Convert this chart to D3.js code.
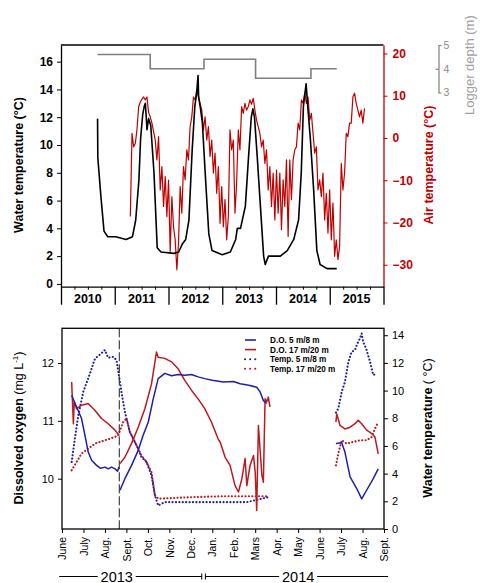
<!DOCTYPE html>
<html><head><meta charset="utf-8">
<script src="https://cdn.jsdelivr.net/npm/d3@7"></script>
<style>
body{margin:0;background:#fff;}
svg{display:block;font-family:"Liberation Sans",Arial,Helvetica,sans-serif;}
</style></head><body>
<svg id="c" width="480" height="583"></svg>
<script>
// ---------- TOP PANEL DATA ----------
const yearTicks = [2010, 2011, 2012, 2013, 2014, 2015, 2016];
const yearLabels = ["2010", "2011", "2012", "2013", "2014", "2015"];
const waterTicks = [0, 2, 4, 6, 8, 10, 12, 14, 16];
const airTicks = [-30, -20, -10, 0, 10, 20];
const depthTicks = [3, 4, 5];

// water temperature (°C) : [decimal year, value]
const waterTemp = [
  [2010.68, 11.9], [2010.685, 9.1], [2010.74, 6.4], [2010.80, 3.8], [2010.87, 3.4], [2011.02, 3.4],
  [2011.21, 3.2], [2011.33, 3.4], [2011.35, 3.8], [2011.39, 4.6], [2011.45, 7.5], [2011.48, 10.4],
  [2011.52, 12.2], [2011.55, 12.8], [2011.57, 13.0], [2011.60, 11.1], [2011.63, 11.9], [2011.67, 11.4],
  [2011.73, 8.0], [2011.76, 5.3], [2011.79, 2.6], [2011.86, 2.3], [2012.10, 2.2], [2012.19, 2.3],
  [2012.26, 2.9], [2012.32, 3.2], [2012.38, 4.6], [2012.44, 9.6], [2012.49, 12.8], [2012.52, 13.6],
  [2012.55, 15.0], [2012.56, 13.5], [2012.60, 12.5], [2012.63, 11.6], [2012.69, 7.5], [2012.75, 3.6],
  [2012.81, 2.4], [2013.00, 2.1], [2013.15, 2.3], [2013.25, 3.2], [2013.28, 4.0], [2013.34, 4.0],
  [2013.43, 5.6], [2013.49, 9.2], [2013.54, 12.0], [2013.57, 12.6], [2013.60, 12.0], [2013.65, 9.2],
  [2013.71, 5.6], [2013.77, 2.0], [2013.80, 1.4], [2013.86, 2.0], [2014.08, 2.0], [2014.21, 2.4],
  [2014.33, 3.2], [2014.42, 4.6], [2014.47, 8.0], [2014.51, 12.8], [2014.56, 14.4], [2014.59, 12.8],
  [2014.64, 10.4], [2014.70, 6.8], [2014.76, 2.4], [2014.82, 1.4], [2014.95, 1.1], [2015.13, 1.1]
];

// air temperature (°C), regular samples starting at airStart, every airStep years
const airStart = 2011.29;
const airStep = 0.0309;
const airTemp = [
  -18.6, 1.1, -2.1, -1.3, 2.0, 7.4, 8.5, 9.2, 9.7, 9.0,
  9.7, 6.0, 5.0, 3.5, 1.5, -0.5, -5.2, 0.3, -12.3, -6.8,
  -16.2, -9.1, -18.6, -10.0, -26.9, -13.9, -21.0, -24.1, -31.2, -24.9,
  -11.5, -17.8, -6.8, -9.9, -2.8, -5.2, 2.7, 5.0, 9.7, 9.0,
  11.3, 9.7, 8.2, 6.6, 1.9, 5.0, -0.5, 2.7, -4.4, -0.5,
  -8.3, -3.6, -13.1, -6.8, -20.2, -11.5, -21.0, -14.6, -24.1, -18.6,
  1.9, -2.8, -0.5, -17.8, -10.7, 1.9, -2.8, 7.4, 5.8, 8.2,
  6.6, 7.4, 9.0, 8.0, 9.4, 6.6, 4.2, 2.7, 1.1, -2.1,
  -0.5, -6.0, -2.8, -12.3, -6.8, -16.2, -8.3, -19.4, -7.6, -17.8,
  -8.3, -21.7, -9.9, -16.2, -5.2, -23.3, -5.2, -14.6, -5.2, -2.8,
  -2.1, 3.5, 1.9, 9.0, 8.2, 10.6, 8.2, 9.7, 4.2, 5.8,
  1.1, -3.6, -2.1, -12.3, -9.9, -13.9, -8.3, -19.4, -13.1, -22.5,
  -12.3, -24.1, -15.4, -28.0, -24.1, -28.8, -25.7, -6.0, -12.3, -8.3,
  1.1, 0.3, 3.5, 3.5, 9.7, 10.6, 8.2, 6.6, 5.0, 6.6, 3.5, 7.0
];

// logger depth (m) : [start year, depth]
const loggerDepth = [
  [2010.68, 4.6], [2011.66, 4.0], [2012.66, 4.4], [2013.62, 3.6], [2014.65, 4.0], [2015.13, 4.0]
];

// ---------- BOTTOM PANEL DATA ----------
// x = months since 1 June 2013
const monthLabels = ["June", "July", "Aug.", "Sept.", "Oct.", "Nov.", "Dec.", "Jan.", "Feb.", "Mars",
                     "Apr.", "May", "June", "July", "Aug.", "Sept."];
const doTicks = [10, 11, 12];
const tempTicks = [0, 2, 4, 6, 8, 10, 12, 14];
const sensorChange = 2.67; // dashed vertical line
const seriesNames = ["D.O. 5 m/8 m", "D.O. 17 m/20 m", "Temp. 5 m/8 m", "Temp. 17 m/20 m"];
const yearBands = [
  {label: "2013", from: -0.13, to: 6.51, center: 2.55},
  {label: "2014", from: 6.68, to: 15.19, center: 11.0}
];

const doShallow = [
  [0.45, 11.44], [0.68, 11.24], [0.91, 11.04], [1.07, 10.75], [1.22, 10.46], [1.38, 10.32], [1.61, 10.23],
  [1.80, 10.18], [2.00, 10.20], [2.15, 10.17], [2.31, 10.20], [2.47, 10.17], [2.59, 10.13], [2.65, 10.20],
  null,
  [2.70, 9.80], [2.93, 10.0], [3.24, 10.23], [3.55, 10.49], [3.78, 10.75], [4.02, 10.98], [4.25, 11.38],
  [4.48, 11.73], [4.79, 11.82], [5.10, 11.78], [5.41, 11.80], [5.72, 11.79], [6.03, 11.80], [6.34, 11.76],
  [6.65, 11.73], [7.00, 11.70], [7.51, 11.67], [7.99, 11.68], [8.30, 11.64], [8.76, 11.61], [9.07, 11.58],
  [9.23, 11.50], [9.38, 11.35], [9.54, 11.30],
  null,
  [12.76, 10.61], [13.03, 10.62], [13.18, 10.46], [13.42, 10.03], [13.73, 9.83], [13.96, 9.65],
  [14.19, 9.80], [14.50, 10.0], [14.73, 10.17]
];
const doDeep = [
  [0.45, 11.67], [0.53, 10.95], [0.57, 11.33], [0.68, 11.21], [0.91, 11.27], [1.22, 11.30], [1.54, 11.18],
  [1.84, 11.04], [2.15, 10.95], [2.47, 10.84], [2.65, 10.75],
  null,
  [2.70, 10.26], [2.93, 10.37], [3.24, 10.61], [3.55, 10.89], [3.86, 11.21], [4.17, 11.64], [4.40, 12.19],
  [4.48, 12.10], [4.79, 12.08], [5.10, 12.02], [5.41, 11.90], [5.72, 11.70], [6.03, 11.53], [6.34, 11.38],
  [6.65, 11.21], [6.96, 10.98], [7.27, 10.69], [7.37, 10.63], [7.60, 10.37], [7.83, 10.23], [8.06, 9.88],
  [8.22, 9.77], [8.38, 10.0], [8.53, 10.35], [8.61, 9.88], [8.76, 10.23], [8.92, 10.40], [9.00, 10.11],
  [9.07, 9.45], [9.15, 10.92], [9.31, 10.06], [9.38, 9.94], [9.46, 11.38], [9.54, 11.33], [9.61, 11.41],
  [9.69, 11.24],
  null,
  [12.76, 10.98], [12.80, 11.12], [12.95, 10.92], [13.18, 10.86], [13.42, 10.89], [13.65, 10.95],
  [13.80, 11.01], [13.96, 10.95], [14.19, 10.84], [14.43, 10.78], [14.58, 10.72], [14.73, 10.43]
];
const tempShallow = [
  [0.45, 4.84], [0.60, 6.53], [0.76, 8.22], [0.99, 9.91], [1.22, 10.88], [1.38, 11.60], [1.54, 12.32],
  [1.77, 12.61], [2.00, 12.93], [2.15, 12.37], [2.39, 12.44], [2.54, 12.20], [2.65, 11.12], [2.77, 9.91],
  [2.93, 8.46], [3.16, 7.01], [3.47, 6.05], [3.70, 5.20], [3.94, 4.84], [4.17, 3.87], [4.33, 2.43],
  [4.48, 1.70], [4.79, 1.94], [6.03, 1.94], [7.51, 1.94], [8.61, 1.94], [9.61, 2.30],
  null,
  [12.76, 8.41], [12.87, 8.70], [13.03, 9.91], [13.18, 10.63], [13.34, 12.08], [13.49, 12.80],
  [13.65, 12.93], [13.73, 13.29], [13.88, 13.77], [13.96, 14.13], [14.03, 13.53], [14.19, 12.93],
  [14.35, 12.08], [14.50, 11.12], [14.66, 11.24]
];
const tempDeep = [
  [0.45, 4.24], [0.68, 4.84], [0.91, 5.45], [1.22, 5.81], [1.54, 6.17], [2.00, 6.41], [2.47, 6.65],
  [2.62, 6.77], [2.85, 7.73], [3.01, 7.98], [3.16, 7.01], [3.47, 6.05], [3.70, 5.32], [3.94, 4.84],
  [4.17, 4.11], [4.33, 2.43], [4.48, 2.19], [6.03, 2.30], [7.51, 2.37], [9.61, 2.37],
  null,
  [12.76, 4.60], [12.87, 5.45], [13.03, 6.41], [13.26, 6.17], [13.57, 6.29], [13.88, 6.41], [14.19, 6.41],
  [14.43, 6.65], [14.58, 7.25], [14.73, 7.73]
];

// ---------- DRAW ----------
const svg = d3.select("#c");
svg.append("rect").attr("width", 480).attr("height", 583).attr("fill", "#fff");

const RED = "#c00000", BLUE = "#1f1fa8", BRED = "#bb1a1f", GRAY = "#7f7f7f";
const fmtInt = d3.format("d");

// ===== Top panel =====
const tL = 61, tR = 383.5, tT = 45, tB = 286.7;
const xTop = d3.scaleLinear().domain([2010, 2016]).range([tL, tR]);
const yW = d3.scaleLinear().domain([-0.2, 17.2]).range([tB, tT]);
const yA = d3.scaleLinear().domain([-35.2, 22]).range([tB, tT]);
const yD = d3.scaleLinear().domain([3, 5]).range([92.5, 45]);

svg.append("line").attr("x1", tL).attr("x2", tR).attr("y1", tT).attr("y2", tT)
  .attr("stroke", "#000").attr("stroke-width", 1.3);

// logger depth step line
svg.append("path").datum(loggerDepth)
  .attr("d", d3.line().x(d => xTop(d[0])).y(d => yD(d[1])).curve(d3.curveStepAfter))
  .attr("fill", "none").attr("stroke", GRAY).attr("stroke-width", 1.6);

// air temperature
const airPts = airTemp.map((v, i) => [airStart + i * airStep, v]);
svg.append("path").datum(airPts)
  .attr("d", d3.line().x(d => xTop(d[0])).y(d => yA(d[1])))
  .attr("fill", "none").attr("stroke", RED).attr("stroke-width", 1.2).attr("stroke-linejoin", "round");

// water temperature
svg.append("path").datum(waterTemp)
  .attr("d", d3.line().x(d => xTop(d[0])).y(d => yW(d[1])))
  .attr("fill", "none").attr("stroke", "#000").attr("stroke-width", 1.6).attr("stroke-linejoin", "round");

// left axis
const gl = svg.append("g").attr("transform", `translate(${tL},0)`)
  .call(d3.axisLeft(yW).tickValues(waterTicks).tickSize(4).tickSizeOuter(0).tickPadding(4).tickFormat(fmtInt));
gl.select(".domain").attr("stroke-width", 1.3);
gl.selectAll("text").attr("font-size", 12).attr("font-weight", "bold").attr("font-family", null);

// right axis (air)
const gr = svg.append("g").attr("transform", `translate(${tR},0)`)
  .call(d3.axisRight(yA).tickValues(airTicks).tickSize(4).tickSizeOuter(0).tickPadding(5).tickFormat(fmtInt));
gr.select(".domain").attr("stroke", RED).attr("stroke-width", 1.3);
gr.selectAll(".tick line").attr("stroke", RED);
gr.selectAll("text").attr("fill", RED).attr("font-size", 12).attr("font-weight", "bold").attr("font-family", null);

// bottom axis (years)
const gb = svg.append("g").attr("transform", `translate(0,${tB})`)
  .call(d3.axisBottom(xTop).tickValues(yearTicks).tickSize(18).tickSizeOuter(0).tickFormat(""));
gb.select(".domain").attr("stroke-width", 1.3);
gb.selectAll(".tick line").attr("stroke-width", 1.3);
const quarterTicks = [];
yearTicks.slice(0, -1).forEach(y => [0.25, 0.5, 0.75].forEach(q => quarterTicks.push(y + q)));
svg.append("g").attr("transform", `translate(0,${tB})`)
  .call(d3.axisBottom(xTop).tickValues(quarterTicks).tickSize(3).tickSizeOuter(0).tickFormat(""))
  .select(".domain").remove();
svg.append("g").selectAll("text").data(yearLabels).join("text")
  .attr("x", d => xTop(+d + 0.5)).attr("y", 302.5)
  .attr("text-anchor", "middle").attr("font-size", 12.5).attr("font-weight", "bold").text(d => d);

// logger depth axis
const gd = svg.append("g").attr("transform", "translate(438.5,0)")
  .call(d3.axisRight(yD).tickValues(depthTicks).tickSizeInner(-3).tickSizeOuter(3).tickPadding(5).tickFormat(fmtInt));
gd.select(".domain").attr("stroke", GRAY).attr("stroke-width", 1.2);
gd.selectAll(".tick line").attr("stroke", GRAY).attr("stroke-width", 1.2)
  .filter(d => d !== 4).remove();
gd.selectAll("text").attr("fill", "#8a8a8a").attr("font-size", 10.5).attr("font-family", null);

// titles
svg.append("text").attr("transform", "translate(23,165) rotate(-90)").attr("text-anchor", "middle")
  .attr("font-size", 12.5).attr("font-weight", "bold").text("Water temperature (°C)");
svg.append("text").attr("transform", "translate(432.5,165) rotate(-90)").attr("text-anchor", "middle")
  .attr("font-size", 12.5).attr("font-weight", "bold").attr("fill", RED).text("Air temperature (°C)");
svg.append("text").attr("transform", "translate(474,115) rotate(-90)").attr("text-anchor", "start")
  .attr("font-size", 13).attr("fill", "#a0a0a0").text("Logger depth (m)");

// ===== Bottom panel =====
const bL = 62, bR = 384, bT = 328.3, bB = 529;
const xB = d3.scaleLinear().domain([0, 15]).range([bL, bR]);
const yDO = d3.scaleLinear().domain([9.13, 12.6]).range([bB, bT]);
const yT = d3.scaleLinear().domain([0, 14.5]).range([bB, bT]);

const lineDO = d3.line().defined(d => d !== null).x(d => xB(d[0])).y(d => yDO(d[1]));
const lineT = d3.line().defined(d => d !== null).x(d => xB(d[0])).y(d => yT(d[1]));

// dotted temperature series
svg.append("path").datum(tempDeep).attr("d", lineT).attr("fill", "none")
  .attr("stroke", BRED).attr("stroke-width", 2.1).attr("stroke-linecap", "round").attr("stroke-dasharray", "0.1,3.3");
svg.append("path").datum(tempShallow).attr("d", lineT).attr("fill", "none")
  .attr("stroke", BLUE).attr("stroke-width", 2.1).attr("stroke-linecap", "round").attr("stroke-dasharray", "0.1,3.3");
// solid DO series
svg.append("path").datum(doDeep).attr("d", lineDO).attr("fill", "none")
  .attr("stroke", BRED).attr("stroke-width", 1.5).attr("stroke-linejoin", "round");
svg.append("path").datum(doShallow).attr("d", lineDO).attr("fill", "none")
  .attr("stroke", BLUE).attr("stroke-width", 1.5).attr("stroke-linejoin", "round");

// dashed line
svg.append("line").attr("x1", xB(sensorChange)).attr("x2", xB(sensorChange)).attr("y1", bT).attr("y2", bB)
  .attr("stroke", "#333").attr("stroke-width", 1.1).attr("stroke-dasharray", "9,3");

// frame
svg.append("rect").attr("x", bL).attr("y", bT).attr("width", bR - bL).attr("height", bB - bT)
  .attr("fill", "none").attr("stroke", "#000").attr("stroke-width", 1.3);

const bl = svg.append("g").attr("transform", `translate(${bL},0)`)
  .call(d3.axisLeft(yDO).tickValues(doTicks).tickSize(4).tickSizeOuter(0).tickPadding(4).tickFormat(fmtInt));
bl.select(".domain").remove();
bl.selectAll("text").attr("font-size", 11).attr("font-family", null);

const br = svg.append("g").attr("transform", `translate(${bR},0)`)
  .call(d3.axisRight(yT).tickValues(tempTicks).tickSize(4).tickSizeOuter(0).tickPadding(4).tickFormat(fmtInt));
br.select(".domain").remove();
br.selectAll("text").attr("font-size", 11).attr("font-family", null);

const bx = svg.append("g").attr("transform", `translate(0,${bB})`)
  .call(d3.axisBottom(xB).tickValues(monthLabels.map((m, i) => i)).tickSize(4).tickSizeOuter(0)
    .tickFormat(i => monthLabels[i]));
bx.select(".domain").remove();
bx.selectAll("text").attr("font-size", 10.5).attr("font-family", null)
  .attr("transform", "rotate(-90)").attr("x", -8).attr("y", 0).attr("dy", "0.35em")
  .attr("text-anchor", "end");

// axis titles
const tl = svg.append("text").attr("transform", "translate(23,428) rotate(-90)").attr("text-anchor", "middle")
  .attr("font-size", 12.5);
tl.append("tspan").attr("font-weight", "bold").text("Dissolved oxygen ");
tl.append("tspan").text("(mg L");
tl.append("tspan").attr("font-size", 8).attr("dy", -5).text("-1");
tl.append("tspan").attr("dy", 5).text(")");
const tr2 = svg.append("text").attr("transform", "translate(431.5,428) rotate(-90)").attr("text-anchor", "middle")
  .attr("font-size", 12.5);
tr2.append("tspan").attr("font-weight", "bold").text("Water temperature");
tr2.append("tspan").text(" ( °C)");

// legend
const legStyles = [
  {color: BLUE, dotted: false}, {color: BRED, dotted: false},
  {color: BLUE, dotted: true}, {color: BRED, dotted: true}
];
const leg = svg.append("g").attr("transform", "translate(245,340)");
seriesNames.forEach((name, i) => {
  const g = leg.append("g").attr("transform", `translate(0,${i * 9.6})`);
  const s = legStyles[i];
  g.append("line").attr("x1", 0).attr("x2", 11).attr("y1", 0).attr("y2", 0)
    .attr("stroke", s.color).attr("stroke-width", s.dotted ? 2 : 1.6)
    .attr("stroke-linecap", s.dotted ? "round" : "butt")
    .attr("stroke-dasharray", s.dotted ? "0.1,5" : null);
  g.append("text").attr("x", 25).attr("y", 3).attr("font-size", 8.2).attr("font-weight", "bold").text(name);
});

// year bands under bottom axis
const yb = svg.append("g");
const bandY = 576.5;
yearBands.forEach(b => {
  const w = 19;
  yb.append("line").attr("x1", xB(b.from)).attr("x2", xB(b.center) - w).attr("y1", bandY).attr("y2", bandY)
    .attr("stroke", "#000").attr("stroke-width", 1);
  yb.append("line").attr("x1", xB(b.center) + w).attr("x2", xB(b.to)).attr("y1", bandY).attr("y2", bandY)
    .attr("stroke", "#000").attr("stroke-width", 1);
  yb.append("text").attr("x", xB(b.center)).attr("y", 581.5).attr("text-anchor", "middle")
    .attr("font-size", 14.5).text(b.label);
});
[yearBands[0].to, yearBands[1].from].forEach(v => {
  yb.append("line").attr("x1", xB(v)).attr("x2", xB(v)).attr("y1", bandY - 3).attr("y2", bandY + 3)
    .attr("stroke", "#000").attr("stroke-width", 1);
});
</script></body></html>
